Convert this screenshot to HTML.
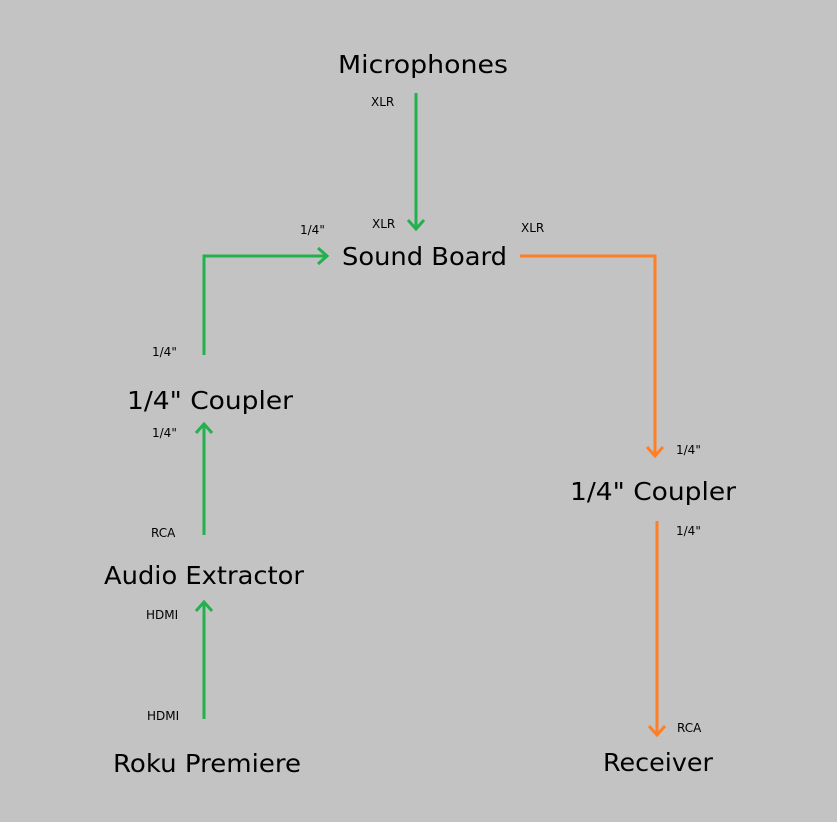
<!DOCTYPE html>
<html><head><meta charset="utf-8"><style>
html,body{margin:0;padding:0;background:#c3c3c3;}
svg{display:block;font-family:"DejaVu Sans","Liberation Sans",sans-serif;}
.b{font-size:25px;fill:#000;}
.s{font-size:12px;fill:#000;}
</style></head><body>
<svg width="837" height="822" viewBox="0 0 837 822" xmlns="http://www.w3.org/2000/svg">
<rect width="837" height="822" fill="#c3c3c3"/>
<g fill="none" stroke-width="3" stroke-linecap="butt" stroke-linejoin="miter">
<g stroke="#22b14c">
<path d="M416 93V229"/><path d="M408 220L416 229L424 220"/>
<path d="M204 355V256H327"/><path d="M318 248L327 256L318 264"/>
<path d="M204 535V424"/><path d="M196 433L204 424L212 433"/>
<path d="M204 719V602"/><path d="M196 611L204 602L212 611"/>
</g>
<g stroke="#ff7f27">
<path d="M520 256H655V456"/><path d="M647 447L655 456L663 447"/>
<path d="M657 521V735"/><path d="M649 726L657 735L665 726"/>
</g>
</g>
<text class="b" x="338" y="73" textLength="170" lengthAdjust="spacingAndGlyphs">Microphones</text>
<text class="b" x="342" y="265" textLength="165" lengthAdjust="spacingAndGlyphs">Sound Board</text>
<text class="b" x="127" y="409" textLength="166" lengthAdjust="spacingAndGlyphs">1/4" Coupler</text>
<text class="b" x="104" y="584" textLength="200" lengthAdjust="spacingAndGlyphs">Audio Extractor</text>
<text class="b" x="113" y="772" textLength="188" lengthAdjust="spacingAndGlyphs">Roku Premiere</text>
<text class="b" x="570" y="500" textLength="166" lengthAdjust="spacingAndGlyphs">1/4" Coupler</text>
<text class="b" x="603" y="771" textLength="110" lengthAdjust="spacingAndGlyphs">Receiver</text>
<text class="s" x="371" y="106">XLR</text>
<text class="s" x="372" y="228">XLR</text>
<text class="s" x="300" y="234">1/4"</text>
<text class="s" x="521" y="232">XLR</text>
<text class="s" x="152" y="356">1/4"</text>
<text class="s" x="152" y="437">1/4"</text>
<text class="s" x="151" y="537">RCA</text>
<text class="s" x="146" y="619">HDMI</text>
<text class="s" x="147" y="720">HDMI</text>
<text class="s" x="676" y="454">1/4"</text>
<text class="s" x="676" y="535">1/4"</text>
<text class="s" x="677" y="732">RCA</text>
</svg>
</body></html>
